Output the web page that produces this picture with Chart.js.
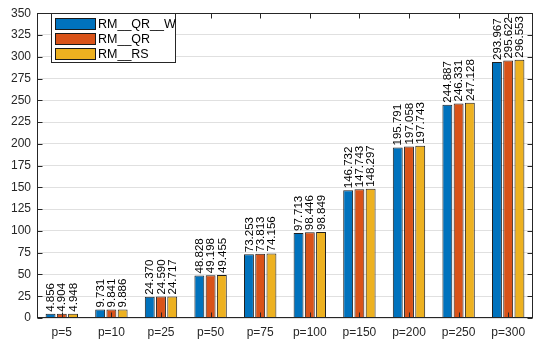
<!DOCTYPE html>
<html>
<head>
<meta charset="utf-8">
<script src="https://cdn.jsdelivr.net/npm/chart.js@4"></script>
<style>
  html, body { margin: 0; padding: 0; background: #fff; }
  #wrap { width: 535px; height: 341px; }
</style>
</head>
<body>
<div id="wrap"><canvas id="barChart" width="535" height="341"></canvas></div>
<script>
const categories = ['p=5', 'p=10', 'p=25', 'p=50', 'p=75', 'p=100', 'p=150', 'p=200', 'p=250', 'p=300'];
const seriesNames = ['RM__QR__W', 'RM__QR', 'RM__RS'];
const qrW = [4.856, 9.731, 24.370, 48.828, 73.253, 97.713, 146.732, 195.791, 244.887, 293.967];
const qr  = [4.904, 9.841, 24.590, 49.198, 73.813, 98.446, 147.743, 197.058, 246.331, 295.622];
const rs  = [4.948, 9.886, 24.717, 49.455, 74.156, 98.849, 148.297, 197.743, 247.128, 296.553];
const yMin = 0, yMax = 350, yStep = 25;

const colors = ['#0072BD', '#D95319', '#EDB120'];
const fontName = '"Liberation Sans", Arial, Helvetica, sans-serif';
const axisColor = '#262626';

// value labels, rotated, sitting on top of each bar
const valueLabels = {
    id: 'valueLabels',
    afterDatasetsDraw(chart) {
        const ctx = chart.ctx;
        ctx.save();
        ctx.fillStyle = '#000';
        ctx.font = '11.5px ' + fontName;
        ctx.textAlign = 'left';
        ctx.textBaseline = 'middle';
        chart.data.datasets.forEach((ds, i) => {
            chart.getDatasetMeta(i).data.forEach((bar, j) => {
                ctx.save();
                ctx.translate(bar.x + 0.5, bar.y - 2);
                ctx.rotate(-Math.PI / 2);
                ctx.fillText(ds.data[j].toFixed(3), 0, 0);
                ctx.restore();
            });
        });
        ctx.restore();
    }
};

// matlab style box with inward ticks, plus the legend
const axesBox = {
    id: 'axesBox',
    afterDraw(chart) {
        const ctx = chart.ctx;
        const a = chart.chartArea;
        const xs = chart.scales.x, ys = chart.scales.y;
        const L = Math.round(a.left) + 0.5, R = Math.round(a.right) - 0.5;
        const T = Math.round(a.top) + 0.5, B = Math.round(a.bottom) - 0.5;
        ctx.save();
        ctx.strokeStyle = axisColor;
        ctx.lineWidth = 1;
        ctx.strokeRect(L, T, R - L, B - T);
        ctx.beginPath();
        ys.ticks.forEach(t => {
            const y = Math.round(ys.getPixelForValue(t.value)) + 0.5;
            ctx.moveTo(L, y); ctx.lineTo(L + 5, y);
            ctx.moveTo(R, y); ctx.lineTo(R - 5, y);
        });
        categories.forEach((c, i) => {
            const x = Math.round(xs.getPixelForValue(i)) + 0.5;
            ctx.moveTo(x, B); ctx.lineTo(x, B - 5);
            ctx.moveTo(x, T); ctx.lineTo(x, T + 5);
        });
        ctx.stroke();

        // legend
        const lx = 51.5, ly = 13.5, lw = 124, lh = 49;
        ctx.fillStyle = '#fff';
        ctx.fillRect(lx, ly, lw, lh);
        ctx.strokeStyle = axisColor;
        ctx.strokeRect(lx, ly, lw, lh);
        ctx.font = '12.5px ' + fontName;
        ctx.textAlign = 'left';
        ctx.textBaseline = 'middle';
        chart.data.datasets.forEach((ds, i) => {
            const ry = 18.5 + i * 15;
            ctx.fillStyle = ds.backgroundColor;
            ctx.fillRect(55.5, ry, 40, 11);
            ctx.strokeStyle = '#1a1a1a';
            ctx.strokeRect(55.5, ry, 40, 11);
            ctx.fillStyle = '#000';
            ctx.fillText(ds.label, 98, ry + 6);
        });
        ctx.restore();
    }
};

const seriesData = [qrW, qr, rs];

new Chart(document.getElementById('barChart'), {
    type: 'bar',
    data: {
        labels: categories,
        datasets: seriesNames.map((name, i) => ({
            label: name,
            data: seriesData[i],
            backgroundColor: colors[i],
            borderColor: '#1f1f1f',
            borderWidth: 1,
            categoryPercentage: 0.68,
            barPercentage: 0.88
        }))
    },
    options: {
        responsive: false,
        animation: false,
        layout: { padding: { top: 5, right: 2, left: 0, bottom: 0 } },
        plugins: {
            legend: { display: false },
            tooltip: { enabled: false }
        },
        scales: {
            x: {
                grid: { display: false, drawTicks: false },
                border: { display: false },
                ticks: {
                    color: axisColor,
                    padding: 7,
                    maxRotation: 0,
                    font: { family: fontName, size: 12 }
                },
                afterFit(s) { s.height = 23; }
            },
            y: {
                min: yMin,
                max: yMax,
                grid: { color: '#e0e0e0', lineWidth: 1, drawTicks: false },
                border: { display: false },
                ticks: {
                    stepSize: yStep,
                    color: axisColor,
                    padding: 6,
                    font: { family: fontName, size: 12 }
                },
                afterFit(s) { s.width = 37; }
            }
        }
    },
    plugins: [valueLabels, axesBox]
});
</script>
</body>
</html>
